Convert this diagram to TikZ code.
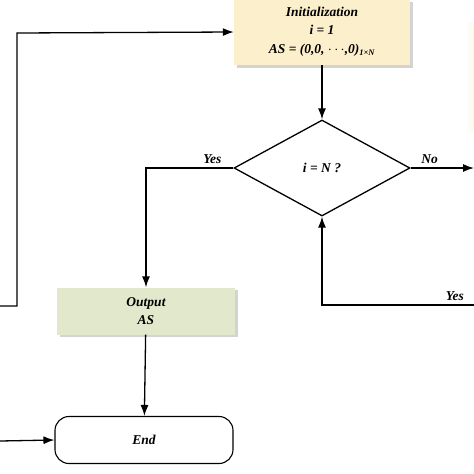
\documentclass[tikz,border=0pt]{standalone}
\usepackage{fontspec}
\setmainfont{Liberation Serif}
\usetikzlibrary{shapes.geometric,shadows,arrows.meta,calc}
\definecolor{initfill}{HTML}{FCEFCC}
\definecolor{outfill}{HTML}{E2E8CB}
\tikzset{
    flow/.style={line width=1.3pt,-{Latex[length=11pt,width=8pt]}},
    lab/.style={font=\fontsize{13.5}{15}\selectfont\bfseries\itshape},
    boite/.style={rectangle,lab,align=center,minimum width=176pt,
      drop shadow={shadow xshift=2.5pt,shadow yshift=-2.5pt,opacity=0.35}},
  }
\begin{document}
\begin{tikzpicture}[x=1pt,y=-1pt]
				  \useasboundingbox (0,0) rectangle (474,474);
				  %boite coupee a droite
				  \fill[initfill!22] (468,22) rectangle (480,132);
				  \node[boite,fill=initfill,minimum height=66pt](init) at (322,32)
				        {Initialization\\[3pt] i = 1\\[4pt] AS = (0,0, $\cdots$,0)\textsubscript{\fontsize{8.5}{8}\selectfont 1×N}};
				  \node[diamond,draw,line width=1.3pt,lab,minimum width=176pt,minimum height=96pt,inner sep=0pt](test) at (322,168) {i = N ?};
				  \node[boite,fill=outfill,minimum height=47pt,minimum width=178pt](out) at (146,311) {Output\\[3pt] AS};
				  \node[rectangle,rounded corners=14pt,draw,line width=1.1pt,lab,minimum width=178pt,minimum height=47pt](fin) at (144,440) {End};

				  \coordinate (gauche) at (0,306);
				  \coordinate (coin) at (17,33);
				  \coordinate (non) at (474,168);
				  \coordinate (oui) at (474,305);
				  \coordinate (bas) at (0,441);

				  \draw[flow] (init) -- (test);
				  \draw[flow] (test.west) -| node[lab,above,pos=0.12]{Yes} (out.north);
				  \draw[flow] (test.east) -- node[lab,above,pos=0.3]{No} (non);
				  \draw[flow] (oui) -| node[lab,above left,pos=0.02]{Yes} (test.south);
				  \draw[flow] (gauche) -| (coin) -- (init.west);
				  \draw[flow] (out) -- (fin);
				  \draw[flow] (bas) -- (fin.west);
				  \end{tikzpicture}
\end{document}
